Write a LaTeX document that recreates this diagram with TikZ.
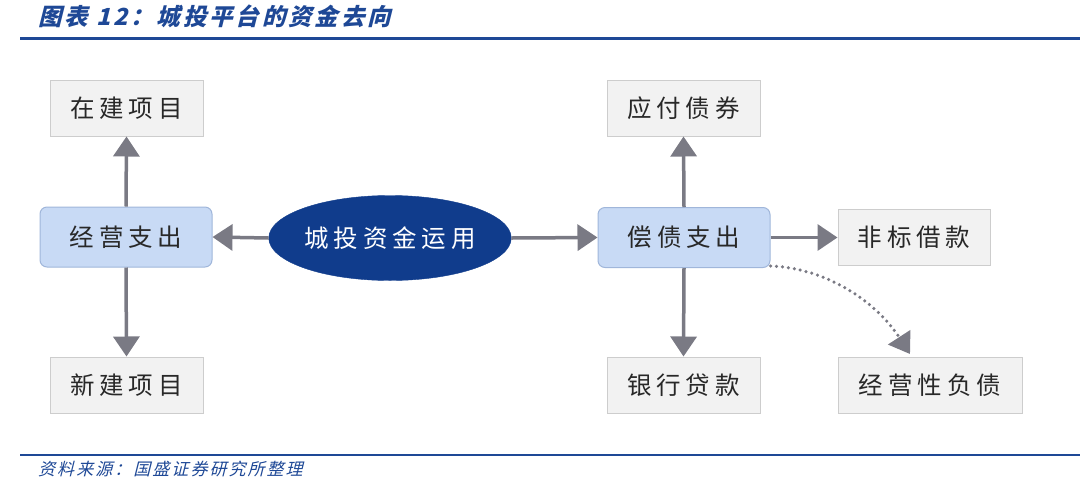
\documentclass[tikz,border=0pt]{standalone}
\usepackage{fontspec}
\usetikzlibrary{arrows.meta,shapes.geometric}
\newfontfamily\cjk{Noto Sans CJK SC}
\newfontfamily\cjkit{Noto Sans CJK SC}[FakeSlant=0.25,LetterSpace=12]
\newfontfamily\cjksp{Noto Sans CJK SC}[LetterSpace=20]
\definecolor{titleblue}{RGB}{30,72,150}
\definecolor{ellblue}{RGB}{16,60,140}
\definecolor{boxgray}{RGB}{242,242,242}
\definecolor{bordergray}{RGB}{205,205,205}
\definecolor{lblue}{RGB}{200,218,245}
\definecolor{lblueborder}{RGB}{160,182,218}
\definecolor{arrgray}{RGB}{122,122,132}
\definecolor{textgray}{RGB}{40,40,40}
\tikzset{
  graybox/.style={draw=bordergray, fill=boxgray, line width=1pt, minimum height=56pt, inner sep=0pt, font=\cjksp\fontsize{24.5}{24.5}\selectfont, text=textgray},
  bluebox/.style={draw=lblueborder, fill=lblue, line width=1pt, rounded corners=7pt, minimum width=172pt, minimum height=60pt, inner sep=0pt, font=\cjksp\fontsize{24.5}{24.5}\selectfont, text=textgray},
  conn/.style={draw=arrgray, line width=3.5pt, -{Triangle[length=20pt,width=26pt]}, arrgray},
  dotconn/.style={draw=arrgray, line width=3.5pt, line cap=round, dash pattern=on 0pt off 6pt, -{Triangle[length=20pt,width=26pt]}, arrgray}
}
\begin{document}
\begin{tikzpicture}[x=1pt,y=-1pt]
\useasboundingbox (0,0) rectangle (1080,491);
% title
\node[anchor=west, text=titleblue, font=\cjkit\fontsize{23.5}{23.5}\selectfont\bfseries, inner sep=0pt] (title) at (38,16) {图表 12：城投平台的资金去向};
\draw[titleblue, line width=3pt] (20,38.5) -- (1080,38.5);
% footer
\draw[titleblue, line width=2pt] (20,455) -- (1080,455);
\node[anchor=west, text=titleblue, font=\cjkit\fontsize{17}{17}\selectfont, inner sep=0pt] (foot) at (38,469) {资料来源：国盛证券研究所整理};
% nodes
\node[graybox, minimum width=153pt] (zj) at (126.5,108) {在建项目};
\node[bluebox] (jy) at (126,237) {经营支出};
\node[graybox, minimum width=153pt] (xj) at (126.5,385) {新建项目};
\node[ellipse, fill=ellblue, draw=ellblue, minimum width=220pt, minimum height=85pt, inner sep=0pt, text=white, font=\cjksp\fontsize{24.5}{24.5}\selectfont] (ct) at (390,238) {城投资金运用};
\node[bluebox] (cz) at (684,237.5) {偿债支出};
\node[graybox, minimum width=153pt] (yf) at (683.5,108) {应付债券};
\node[graybox, minimum width=152pt] (fb) at (914,237.5) {非标借款};
\node[graybox, minimum width=153pt] (yh) at (683.5,385) {银行贷款};
\node[graybox, minimum width=184pt] (jyx) at (930,385) {经营性负债};
% connectors
\draw[conn] (jy.north) -- (zj.south);
\draw[conn] (jy.south) -- (xj.north);
\draw[conn] (ct.west) -- (jy.east);
\draw[conn] (ct.east) -- (cz.west);
\draw[conn] (cz.north) -- (yf.south);
\draw[conn] (cz.south) -- (yh.north);
\draw[conn] (cz.east) -- (fb.west);
\coordinate (dend) at (910,354);
\draw[dotconn] ([yshift=2pt]cz.south east) .. controls (825,268) and (875,300) .. (dend);
\end{tikzpicture}
\end{document}
